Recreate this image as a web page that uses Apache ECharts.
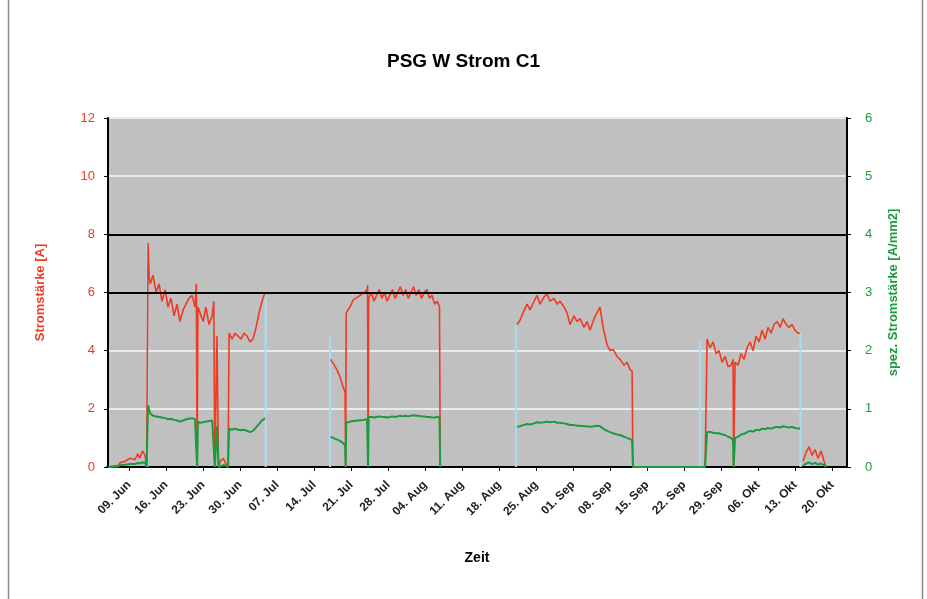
<!DOCTYPE html>
<html>
<head>
<meta charset="utf-8">
<script src="https://cdn.jsdelivr.net/npm/echarts@6/dist/echarts.min.js"></script>
<style>html,body{margin:0;padding:0;background:#fff}#c{width:927px;height:599px}</style>
</head>
<body>
<div id="c"></div>
<script>
// time in days since 05. Jun ; '-' = gap in the record
const days = [0,1.9,2.3,3.2,4.2,5.1,5.6,6.0,6.5,7.0,7.3,
 7.57,7.8,8.0,8.5,9.1,9.65,10.2,10.8,11.35,11.9,12.5,13.05,13.6,14.2,14.75,15.3,15.9,16.45,16.7,16.85,
 17.0,17.4,18.0,18.5,19.1,19.7,20.0,20.2,20.6,20.9,21.2,21.8,22.3,22.7,
 22.9,23.46,24.03,24.6,25.16,25.73,26.3,26.86,27.43,28.0,28.57,29.13,29.7,29.9,
 42.1,42.57,43.33,43.89,44.46,44.84,44.95,45.05,45.78,46.35,47.3,48.24,49.0,49.1,49.19,
 49.3,49.8,50.3,50.8,51.3,51.8,52.3,52.8,53.3,53.8,54.3,54.8,55.3,55.8,56.3,56.8,57.3,57.8,58.3,58.8,59.3,59.8,60.3,60.8,61.3,61.8,62.3,62.7,62.85,70,
 77.38,77.94,78.51,79.27,79.84,80.59,81.16,81.73,82.49,83.05,83.62,84.38,84.95,85.51,86.27,86.84,87.41,88.16,88.73,89.3,90.05,90.62,91.19,91.95,92.51,93.08,93.65,94.41,94.97,95.54,96.3,96.86,97.62,98.19,98.76,99.14,99.3,
 112.95,113.33,113.9,114.46,115.03,115.6,116.17,116.73,117.3,117.87,118.25,118.35,118.62,119.19,119.76,120.33,120.89,121.46,122.03,122.6,123.16,123.73,124.3,124.86,125.43,126.0,126.57,127.14,127.7,128.27,128.84,129.41,129.97,130.54,130.92,131.1,
 131.49,132.06,132.62,133.19,133.76,134.33,134.89,135.46,135.84];

// Stromstärke [A]
const current = [0,0.05,0.15,0.2,0.3,0.25,0.45,0.3,0.55,0.4,0,
 7.7,6.5,6.3,6.6,6.0,6.3,5.7,6.1,5.5,5.8,5.2,5.6,5.0,5.4,5.6,5.8,5.9,5.5,6.3,0,
 5.5,5.3,5.0,5.5,4.9,5.2,5.7,0,4.5,0,0.2,0.3,0.1,0,
 4.6,4.4,4.6,4.5,4.4,4.6,4.5,4.3,4.4,4.8,5.3,5.7,6.0,'-',
 3.7,3.57,3.33,3.1,2.75,2.58,0,5.3,5.5,5.74,5.85,5.97,6.08,6.25,0,
 5.8,6.0,5.7,5.9,6.1,5.8,6.0,5.7,5.9,6.1,5.8,6.0,6.2,5.9,6.1,5.8,6.0,6.2,5.9,6.1,5.8,6.0,6.1,5.8,5.9,5.6,5.7,5.5,0,'-',
 4.9,5.05,5.3,5.6,5.4,5.7,5.9,5.6,5.85,5.95,5.7,5.8,5.6,5.7,5.5,5.3,4.9,5.2,5.0,5.1,4.8,5.0,4.7,5.1,5.3,5.5,4.8,4.2,4.0,4.05,3.8,3.7,3.5,3.6,3.35,3.3,0,
 0,4.4,4.1,4.3,3.9,4.0,3.6,3.8,3.45,3.5,3.7,0,3.6,3.5,3.9,3.7,4.1,4.3,4.0,4.5,4.3,4.7,4.4,4.8,4.6,4.9,5.0,4.8,5.1,4.9,4.8,4.9,4.7,4.6,4.6,'-',
 0.2,0.5,0.7,0.4,0.6,0.3,0.55,0.2,0];

// spez. Stromstärke [A/mm2]
const specCurrent = [0,0.01,0.03,0.04,0.05,0.05,0.07,0.06,0.08,0.07,0,
 1.06,0.98,0.92,0.88,0.87,0.86,0.85,0.84,0.82,0.83,0.81,0.80,0.78,0.80,0.82,0.83,0.84,0.82,0.84,0,
 0.78,0.76,0.77,0.78,0.79,0.80,0.80,0,0.70,0,0.02,0.03,0.02,0,
 0.66,0.64,0.66,0.64,0.63,0.64,0.62,0.60,0.62,0.68,0.74,0.80,0.84,'-',
 0.52,0.50,0.47,0.45,0.41,0.38,0,0.76,0.78,0.79,0.80,0.81,0.82,0.84,0,
 0.86,0.86,0.85,0.86,0.87,0.86,0.86,0.85,0.86,0.87,0.86,0.87,0.88,0.87,0.88,0.87,0.88,0.89,0.88,0.88,0.87,0.87,0.86,0.86,0.85,0.85,0.86,0.86,0,'-',
 0.69,0.70,0.72,0.74,0.73,0.75,0.77,0.76,0.77,0.78,0.77,0.78,0.76,0.76,0.75,0.74,0.72,0.72,0.71,0.71,0.70,0.70,0.69,0.70,0.71,0.70,0.66,0.62,0.60,0.58,0.56,0.55,0.52,0.50,0.48,0.46,0,
 0,0.60,0.60,0.59,0.58,0.58,0.56,0.55,0.52,0.50,0.46,0,0.50,0.52,0.56,0.57,0.60,0.62,0.61,0.64,0.63,0.66,0.65,0.67,0.66,0.68,0.69,0.68,0.70,0.69,0.68,0.69,0.67,0.66,0.66,'-',
 0.03,0.06,0.08,0.05,0.07,0.04,0.06,0.03,0];

// light blue edge markers (start/end of measuring blocks)
const edgeDays = [7.45, 29.8, 42.0, 77.2, 112.0, 131.0];
const edgeTops = [7.7, 6.0, 4.5, 4.9, 4.35, 4.6];

// limit lines [A]
const limitValues = [8, 6];

// x tick labels
const tickDays = [4,11,18,25,32,39,46,53,60,67,74,81,88,95,102,109,116,123,130,137];
const tickLabels = ['09. Jun','16. Jun','23. Jun','30. Jun','07. Jul','14. Jul','21. Jul','28. Jul','04. Aug','11. Aug',
 '18. Aug','25. Aug','01. Sep','08. Sep','15. Sep','22. Sep','29. Sep','06. Okt','13. Okt','20. Okt'];

const RED = '#f03a22', GREEN = '#1c9a3e', FONT = 'Liberation Sans, Arial, sans-serif';

const redData = days.map((d, i) => [d, current[i]]);
const greenData = days.map((d, i) => [d, specCurrent[i]]);
const edgeData = [];
edgeDays.forEach((d, i) => { edgeData.push([d, 0], [d, edgeTops[i]], [d, '-']); });

const chart = echarts.init(document.getElementById('c'), null, {renderer: 'canvas'});
chart.setOption({
  animation: false,
  backgroundColor: '#fff',
  textStyle: {fontFamily: FONT},
  title: {
    text: 'PSG W Strom C1', left: 'center', top: 47,
    textStyle: {fontSize: 19, fontWeight: 'bold', color: '#000', fontFamily: FONT}
  },
  graphic: [
    {type: 'line', shape: {x1: 8.5, y1: 0, x2: 8.5, y2: 599}, style: {stroke: '#888', lineWidth: 1.5}},
    {type: 'line', shape: {x1: 922.5, y1: 0, x2: 922.5, y2: 599}, style: {stroke: '#888', lineWidth: 1.5}},
    {type: 'rect', z: -10, shape: {x: 107, y: 118, width: 740, height: 349}, style: {fill: '#c0c0c0'}}
  ],
  grid: {left: 107, right: 80, top: 118, bottom: 132, containLabel: false},
  xAxis: {
    type: 'value', min: -0.2, max: 139.8,
    name: 'Zeit', nameLocation: 'middle', nameGap: 84,
    nameTextStyle: {fontSize: 14, fontWeight: 'bold', color: '#000'},
    axisLine: {show: true, onZero: false, lineStyle: {color: '#000', width: 2}},
    axisTick: {show: true, customValues: tickDays, length: 4, lineStyle: {color: '#000'}},
    splitLine: {show: false},
    axisLabel: {
      customValues: tickDays, rotate: 45, fontSize: 12, fontWeight: 'bold', color: '#222', margin: 16,
      formatter: v => { const i = tickDays.indexOf(v); return i >= 0 ? tickLabels[i] : ''; }
    }
  },
  yAxis: [
    {
      type: 'value', min: 0, max: 12, interval: 2, position: 'left',
      name: 'Stromstärke [A]', nameLocation: 'middle', nameGap: 60, nameRotate: 90,
      nameTextStyle: {color: RED, fontSize: 13, fontWeight: 'bold'},
      axisLine: {show: true, lineStyle: {color: '#000', width: 2}},
      axisTick: {show: true, length: 4, lineStyle: {color: '#000'}},
      axisLabel: {color: RED, fontSize: 13, margin: 12},
      splitLine: {show: true, lineStyle: {color: '#e4ecf0', width: 2}}
    },
    {
      type: 'value', min: 0, max: 6, interval: 1, position: 'right',
      name: 'spez. Stromstärke [A/mm2]', nameLocation: 'middle', nameGap: 40, nameRotate: 90,
      nameTextStyle: {color: GREEN, fontSize: 13, fontWeight: 'bold'},
      axisLine: {show: true, lineStyle: {color: '#000', width: 2}},
      axisTick: {show: true, length: 4, lineStyle: {color: '#000'}},
      axisLabel: {color: GREEN, fontSize: 13, margin: 18},
      splitLine: {show: false}
    }
  ],
  series: [
    {
      name: 'edges', type: 'line', yAxisIndex: 0, data: edgeData, showSymbol: false,
      lineStyle: {color: '#a9dcf2', width: 2}, silent: true,
      markLine: {
        silent: true, symbol: 'none', label: {show: false},
        lineStyle: {color: '#000', width: 2, type: 'solid'},
        data: limitValues.map(v => ({yAxis: v}))
      }
    },
    {
      name: 'Stromstärke [A]', type: 'line', yAxisIndex: 0, data: redData,
      showSymbol: false, lineStyle: {color: RED, width: 1.6}, itemStyle: {color: RED}
    },
    {
      name: 'spez. Stromstärke [A/mm2]', type: 'line', yAxisIndex: 1, data: greenData,
      showSymbol: false, lineStyle: {color: GREEN, width: 2}, itemStyle: {color: GREEN}
    }
  ]
});
</script>
</body>
</html>
